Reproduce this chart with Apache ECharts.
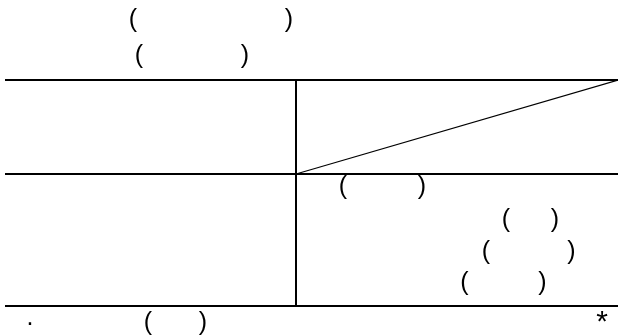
<!DOCTYPE html>
<html>
<head>
<meta charset="utf-8">
<style>html,body{margin:0;padding:0;background:#fff;}#c{width:618px;height:336px;}</style>
<script src="https://cdn.jsdelivr.net/npm/echarts@6/dist/echarts.min.js"></script>
</head>
<body>
<div id="c"></div>
<script>
// Visible glyphs of the table (the original characters between brackets did not render)
var headerRow1 = ['(', ')'];
var headerRow2 = ['(', ')'];
var cellRow1 = ['(', ')'];
var cellRow2 = ['(', ')'];
var cellRow3 = ['(', ')'];
var cellRow4 = ['(', ')'];
var footer = ['.', '(', ')', '*'];

var chart = echarts.init(document.getElementById('c'), null, {renderer: 'canvas'});
var FS = 25;
var FONT = 'Liberation Sans, Arial, sans-serif';
var off = -2;
function txt(s, x, y, fs) {
  return {type: 'text', x: x, y: y + off, style: {text: s, fill: '#000', font: (fs || FS) + 'px ' + FONT, align: 'center', verticalAlign: 'middle'}};
}
function line(x1, y1, x2, y2, w) {
  return {type: 'line', shape: {x1: x1, y1: y1, x2: x2, y2: y2}, style: {stroke: '#000', lineWidth: w}};
}
var g = [];
g.push(line(5, 80, 618, 80, 2));
g.push(line(5, 174, 618, 174, 2));
g.push(line(5, 306, 618, 306, 2));
g.push(line(296, 80, 296, 306, 2));
g.push(line(296, 174, 618, 80, 1.2));
var place = [
  [headerRow1, [133, 289], 22.5],
  [headerRow2, [139, 245], 58.5],
  [cellRow1, [343, 422], 188.7],
  [cellRow2, [506, 555], 222.5],
  [cellRow3, [486, 571.5], 254],
  [cellRow4, [464.5, 542.5], 285.5]
];
place.forEach(function (p) {
  p[0].forEach(function (s, i) { g.push(txt(s, p[1][i], p[2])); });
});
g.push(txt(footer[0], 30, 320));
g.push(txt(footer[1], 148, 325));
g.push(txt(footer[2], 203, 325));
g.push(txt(footer[3], 602, 325, 30));
chart.setOption({animation: false, graphic: {elements: g}});
</script>
</body>
</html>
